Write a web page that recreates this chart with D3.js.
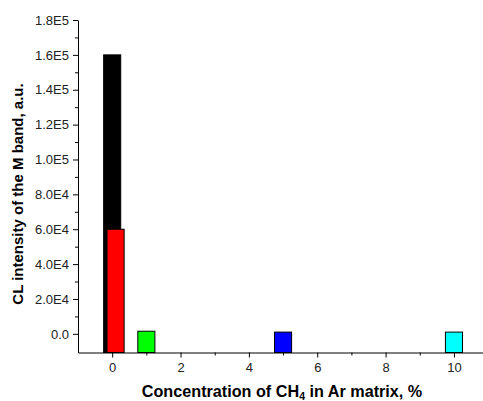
<!DOCTYPE html>
<html>
<head>
<meta charset="utf-8">
<script src="https://cdn.jsdelivr.net/npm/d3@7"></script>
<style>
  body { margin: 0; background: #fff; }
  text { font-family: "Liberation Sans", Arial, sans-serif; }
</style>
</head>
<body>
<div class="chart"></div>
<script>
// concentration (%), intensity (a.u.), colour per bar
const concentration = [0, 0.1, 1, 5, 10];
const intensity = [160000, 60000, 1500, 1000, 1000];
const barColors = ['#000000', '#ff0000', '#00ff00', '#0000ff', '#00ffff'];
const yMajorTicks = [0, 20000, 40000, 60000, 80000, 100000, 120000, 140000, 160000, 180000];
const yMinorTicks = [10000, 30000, 50000, 70000, 90000, 110000, 130000, 150000, 170000];
const xMajorTicks = [0, 2, 4, 6, 8, 10];
const xMinorTicks = [1, 3, 5, 7, 9];

const w = 483;
const h = 401;
const padding = { top: 20, right: 0, bottom: 48.5, left: 78 };

const xScale = d3.scaleLinear()
  .domain([-1, 10.85])
  .range([padding.left, w - padding.right]);
const yScale = d3.scaleLinear()
  .domain([-10700, 180000])
  .range([h - padding.bottom, padding.top]);

const svg = d3.select('.chart')
  .append('svg')
  .attr('width', w)
  .attr('height', h);

const barWidth = xScale(0.5) - xScale(0);

svg.selectAll('rect.bar')
  .data(concentration)
  .enter()
  .append('rect')
  .attr('class', 'bar')
  .attr('x', (d) => xScale(d) - barWidth / 2)
  .attr('y', (d, i) => yScale(intensity[i]))
  .attr('width', barWidth)
  .attr('height', (d, i) => yScale.range()[0] - yScale(intensity[i]))
  .attr('fill', (d, i) => barColors[i])
  .attr('stroke', '#000')
  .attr('stroke-width', 1);

const fmt = (d) => d === 0 ? '0.0' : d.toExponential(1).replace('e+', 'E');

// minor ticks first, then major with labels
svg.append('g')
  .attr('transform', `translate(${padding.left}, 0)`)
  .call(d3.axisLeft(yScale).tickValues(yMinorTicks).tickSize(3).tickSizeOuter(0).tickFormat(''))
  .call((g) => g.select('.domain').remove());

svg.append('g')
  .attr('class', 'y-axis')
  .attr('transform', `translate(${padding.left}, 0)`)
  .call(d3.axisLeft(yScale).tickValues(yMajorTicks).tickSize(5).tickSizeOuter(0).tickPadding(4).tickFormat(fmt))
  .call((g) => g.selectAll('text').attr('font-size', 13).attr('fill', '#222'));

svg.append('g')
  .attr('transform', `translate(0, ${h - padding.bottom})`)
  .call(d3.axisBottom(xScale).tickValues(xMinorTicks).tickSize(3).tickSizeOuter(0).tickFormat(''))
  .call((g) => g.select('.domain').remove());

svg.append('g')
  .attr('class', 'x-axis')
  .attr('transform', `translate(0, ${h - padding.bottom})`)
  .call(d3.axisBottom(xScale).tickValues(xMajorTicks).tickSize(5).tickSizeOuter(0).tickPadding(5))
  .call((g) => g.selectAll('text').attr('font-size', 13).attr('fill', '#222'));

svg.selectAll('.domain, .tick line').attr('stroke', '#000');

svg.append('text')
  .attr('transform', 'translate(23, 194) rotate(-90)')
  .attr('text-anchor', 'middle')
  .attr('font-size', 15)
  .attr('font-weight', 'bold')
  .text('CL intensity of the M band, a.u.');

const xLabel = svg.append('text')
  .attr('x', 282)
  .attr('y', 397)
  .attr('text-anchor', 'middle')
  .attr('font-size', 16.2)
  .attr('font-weight', 'bold');
xLabel.append('tspan').text('Concentration of CH');
xLabel.append('tspan').attr('font-size', 10.5).attr('dy', 3).text('4');
xLabel.append('tspan').attr('dy', -3).text(' in Ar matrix, %');
</script>
</body>
</html>
